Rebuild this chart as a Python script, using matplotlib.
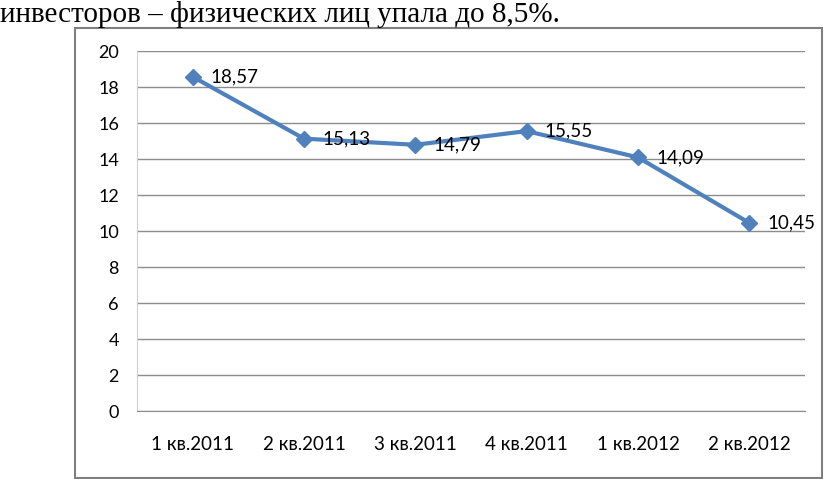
"""
Line chart: quarterly share (%), 2011-2012
"""
import matplotlib
matplotlib.use("Agg")
import matplotlib.pyplot as plt
from matplotlib.patches import Rectangle

quarters = ["1 кв.2011", "2 кв.2011", "3 кв.2011", "4 кв.2011", "1 кв.2012", "2 кв.2012"]
values = [18.57, 15.13, 14.79, 15.55, 14.09, 10.45]
y_ticks = [0, 2, 4, 6, 8, 10, 12, 14, 16, 18, 20]
header = "инвесторов – физических лиц упала до 8,5%."

line_color = "#4F81BD"
grid_color = "#8C8C8C"

fig = plt.figure(figsize=(8.27, 4.79), dpi=100)
fig.patch.set_facecolor("white")

# text of the document above the chart
fig.text(0.0, 1 - 22 / 479, header, family="Liberation Serif", fontsize=21,
         ha="left", va="baseline", color="black")

# frame around the chart object
fig.patches.append(Rectangle((75 / 827, 1 / 479), 747 / 827, 450 / 479,
                             transform=fig.transFigure, fill=False,
                             edgecolor="#7F7F7F", linewidth=1.5))

ax = fig.add_axes([137 / 827, 1 - 411 / 479, 668 / 827, 360 / 479])
x = list(range(len(quarters)))
ax.plot(x, values, color=line_color, linewidth=3, marker="D", markersize=8,
        zorder=3)
for xi, v in zip(x, values):
    ax.annotate("{:.2f}".format(v).replace(".", ","), (xi, v),
                xytext=(13, 0), textcoords="offset points",
                ha="left", va="center", family="Lato", fontsize=13.5,
                color="black", zorder=4)

ax.set_xlim(-0.5, len(quarters) - 0.5)
ax.set_ylim(0, 20)
ax.set_yticks(y_ticks)
ax.set_xticks(x)
ax.set_xticklabels(quarters)
ax.yaxis.grid(True, color=grid_color, linewidth=1)
ax.set_axisbelow(True)
for side in ["top", "right"]:
    ax.spines[side].set_visible(False)
ax.spines["bottom"].set_color(grid_color)
ax.spines["left"].set_color("#D0D0D0")
ax.tick_params(length=0)
ax.tick_params(axis="y", pad=13)
ax.tick_params(axis="x", pad=18)
for lab in ax.get_yticklabels():
    lab.set_family("Lato")
    lab.set_fontsize(13)
for lab in ax.get_xticklabels():
    lab.set_family("Lato")
    lab.set_fontsize(13.5)

fig.savefig("out.png", dpi=100)
